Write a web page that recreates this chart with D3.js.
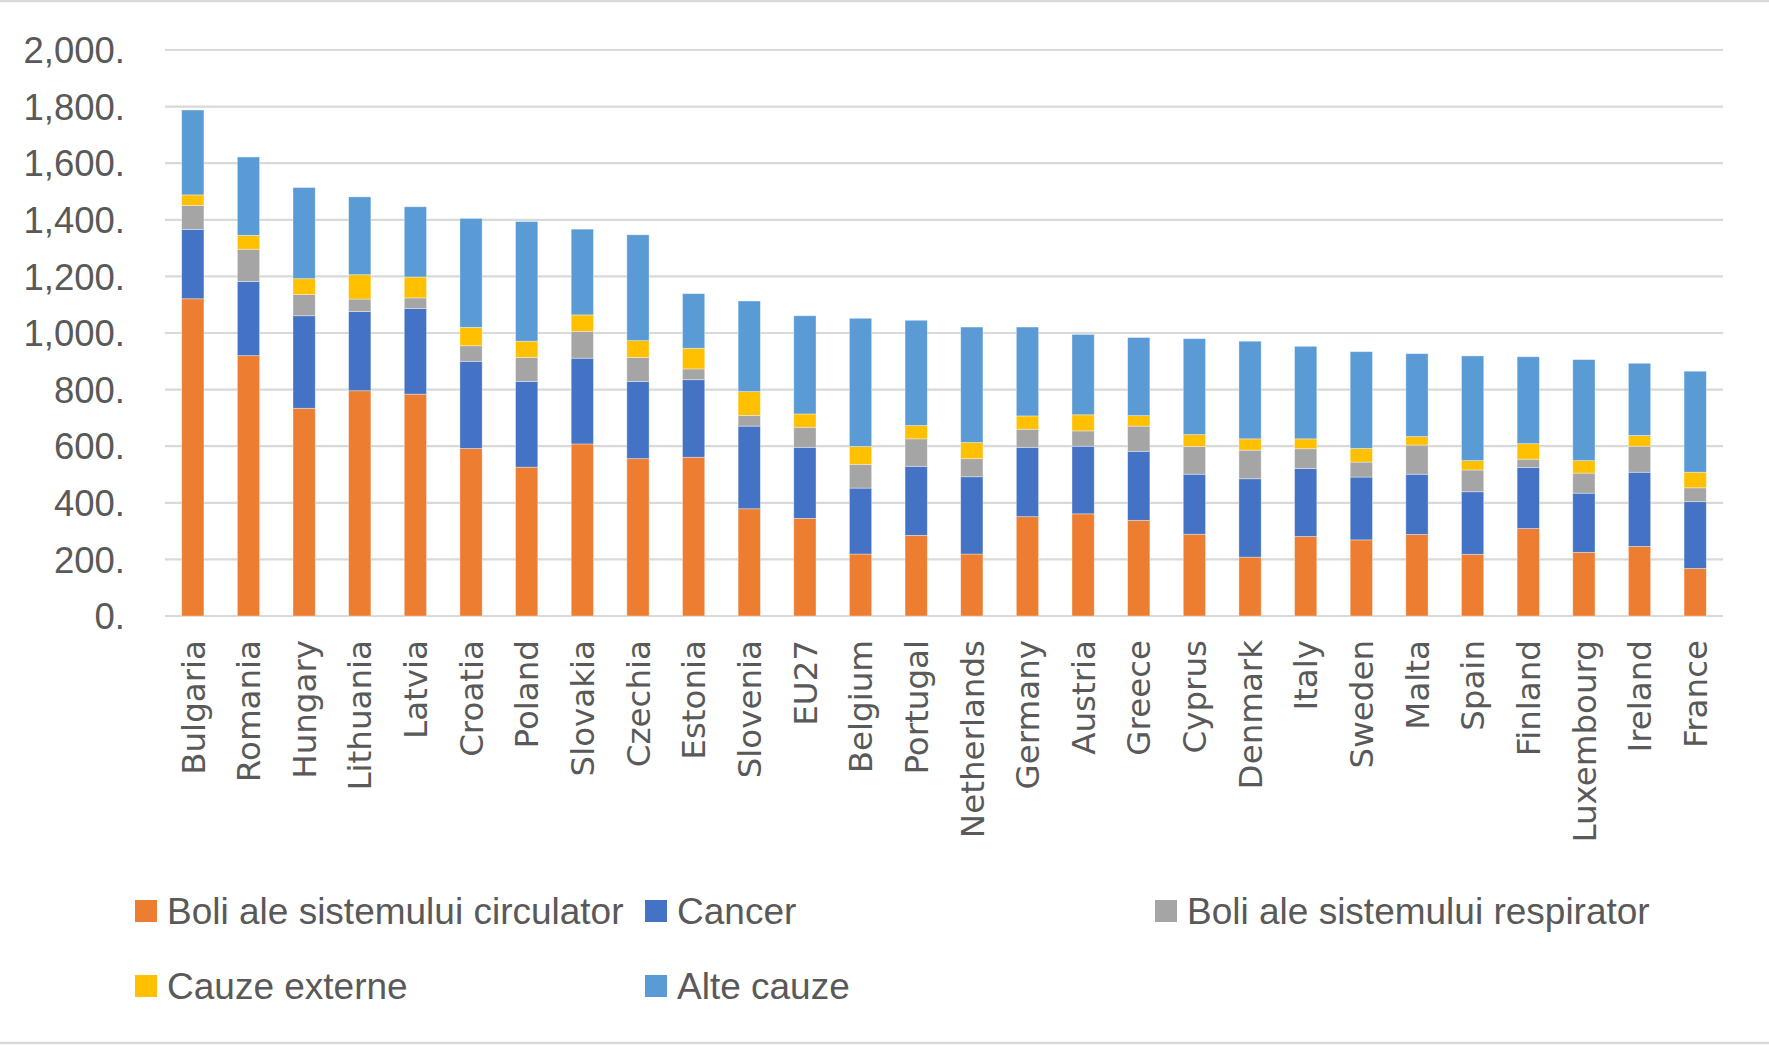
<!DOCTYPE html>
<html>
<head>
<meta charset="utf-8">
<script src="https://cdn.jsdelivr.net/npm/d3@7"></script>
<style>
  html, body { margin: 0; padding: 0; background: #fff; }
  svg { display: block; }
</style>
</head>
<body>
<svg id="chart" width="1769" height="1045"></svg>
<script>
// Mortality by cause, per country (stacked)
const categories = ["Bulgaria", "Romania", "Hungary", "Lithuania", "Latvia", "Croatia", "Poland", "Slovakia", "Czechia", "Estonia", "Slovenia", "EU27", "Belgium", "Portugal", "Netherlands", "Germany", "Austria", "Greece", "Cyprus", "Denmark", "Italy", "Sweden", "Malta", "Spain", "Finland", "Luxembourg", "Ireland", "France"];

const circulator  = [1121, 920, 734, 796, 784, 592, 526, 608, 556, 561, 379, 345, 219, 285, 219, 351, 361, 338, 289, 208, 281, 269, 288, 218, 309, 225, 246, 168];
const cancer      = [245, 262, 327, 280, 303, 308, 303, 303, 273, 274, 292, 251, 233, 244, 273, 245, 239, 244, 212, 277, 240, 222, 213, 221, 216, 209, 262, 236];
const respirator  = [85, 114, 75, 44, 37, 55, 85, 95, 85, 38, 38, 71, 84, 97, 64, 64, 54, 89, 98, 101, 70, 53, 103, 77, 29, 71, 92, 49];
const externe     = [37, 49, 56, 86, 74, 65, 57, 58, 59, 73, 84, 47, 63, 47, 57, 47, 57, 37, 42, 40, 35, 48, 30, 33, 55, 44, 38, 55];
const alte        = [300, 277, 322, 275, 248, 385, 423, 303, 374, 193, 320, 347, 453, 372, 408, 314, 284, 276, 339, 345, 327, 342, 293, 370, 307, 357, 255, 357];

const seriesNames  = ["Boli ale sistemului circulator", "Cancer", "Boli ale sistemului respirator", "Cauze externe", "Alte cauze"];
const seriesKeys   = ["circulator", "cancer", "respirator", "externe", "alte"];
const seriesColors = ["#ED7D31", "#4472C4", "#A5A5A5", "#FFC000", "#5B9BD5"];

const yTicks = [0, 200, 400, 600, 800, 1000, 1200, 1400, 1600, 1800, 2000];

const W = 1769, H = 1045;
const svg = d3.select("#chart");
const textColor = "#595959";
const gridColor = "#D9D9D9";

// chart area border
svg.append("rect")
  .attr("x", -3).attr("y", 1)
  .attr("width", W + 6).attr("height", 1042)
  .attr("fill", "#fff")
  .attr("stroke", gridColor)
  .attr("stroke-width", 2.5);

const rows = categories.map((c, i) => ({
  country: c,
  circulator: circulator[i],
  cancer: cancer[i],
  respirator: respirator[i],
  externe: externe[i],
  alte: alte[i]
}));

const x = d3.scaleBand()
  .domain(categories)
  .range([165, 1723])
  .paddingInner(0.6)
  .paddingOuter(0.3);

const y = d3.scaleLinear()
  .domain([0, 2000])
  .range([616, 50]);

const color = d3.scaleOrdinal().domain(seriesKeys).range(seriesColors);

// gridlines
svg.append("g")
  .selectAll("line")
  .data(yTicks)
  .join("line")
  .attr("x1", 165).attr("x2", 1723)
  .attr("y1", d => y(d)).attr("y2", d => y(d))
  .attr("stroke", gridColor)
  .attr("stroke-width", 2.2);

// y axis labels
const yAxis = svg.append("g")
  .attr("transform", "translate(125,0)")
  .call(d3.axisLeft(y).tickValues(yTicks).tickSize(0).tickPadding(0)
    .tickFormat(d => d3.format(",")(d) + "."));
yAxis.select(".domain").remove();
yAxis.selectAll("text")
  .attr("x", 0)
  .attr("dy", "0.35em")
  .attr("fill", textColor)
  .style("font-family", "'Liberation Sans', Arial, sans-serif")
  .style("font-size", "36.5px");

// stacked bars
const stacked = d3.stack().keys(seriesKeys)(rows);

svg.append("g")
  .selectAll("g")
  .data(stacked)
  .join("g")
  .attr("fill", d => color(d.key))
  .selectAll("rect")
  .data(d => d)
  .join("rect")
  .attr("x", d => x(d.data.country))
  .attr("width", x.bandwidth())
  .attr("y", d => y(d[1]))
  .attr("height", d => y(d[0]) - y(d[1]))
  .attr("stroke", "#fff")
  .attr("stroke-opacity", 0.45)
  .attr("stroke-width", 0.8);

// x axis labels (rotated)
const xAxis = svg.append("g")
  .attr("transform", "translate(0,640)")
  .call(d3.axisBottom(x).tickSize(0).tickPadding(0));
xAxis.select(".domain").remove();
xAxis.selectAll("text")
  .attr("transform", "rotate(-90)")
  .attr("x", 0)
  .attr("y", 0)
  .attr("dy", "0.36em")
  .attr("text-anchor", "end")
  .attr("fill", textColor)
  .style("font-family", "'DejaVu Sans', sans-serif")
  .style("font-size", "32.5px");

// legend
const legendCols = [135, 645, 1155];
const legendRows = [911, 986];
const legend = svg.append("g")
  .selectAll("g")
  .data(seriesNames)
  .join("g")
  .attr("transform", (d, i) => `translate(${legendCols[i % 3]},${legendRows[Math.floor(i / 3)]})`);

legend.append("rect")
  .attr("x", 0).attr("y", -11)
  .attr("width", 22).attr("height", 22)
  .attr("fill", (d, i) => seriesColors[i]);

legend.append("text")
  .attr("x", 32)
  .attr("y", 0)
  .attr("dy", "0.35em")
  .attr("fill", textColor)
  .style("font-family", "'Liberation Sans', Arial, sans-serif")
  .style("font-size", "37px")
  .text(d => d);
</script>
</body>
</html>
